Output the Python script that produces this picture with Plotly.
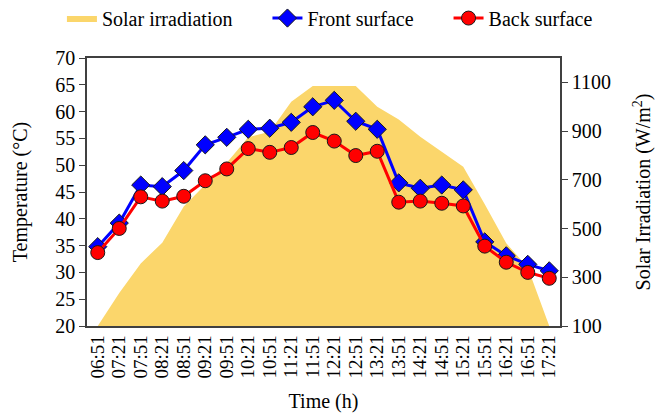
import plotly.graph_objects as go

times = ["06:51", "07:21", "07:51", "08:21", "08:51", "09:21", "09:51", "10:21",
         "10:51", "11:21", "11:51", "12:21", "12:51", "13:21", "13:51", "14:21",
         "14:51", "15:21", "15:51", "16:21", "16:51", "17:21"]
front_surface = [34.8, 39.2, 46.3, 46.0, 49.0, 53.8, 55.2, 56.7, 56.9, 58.0, 60.9, 62.1,
                 58.2, 56.7, 46.7, 45.7, 46.3, 45.4, 35.7, 33.1, 31.5, 30.3]
back_surface = [33.7, 38.2, 44.1, 43.3, 44.2, 47.1, 49.3, 53.1, 52.4, 53.3, 56.1, 54.5,
                51.8, 52.6, 43.1, 43.3, 42.9, 42.4, 34.9, 31.9, 30.0, 28.9]
solar_irradiation = [100, 235, 357, 442, 590, 680, 770, 875, 897, 1020, 1085, 1085,
                     1085, 1000, 948, 877, 815, 754, 600, 440, 340, 100]

temp_ticks = [20, 25, 30, 35, 40, 45, 50, 55, 60, 65, 70]
irr_ticks = [100, 300, 500, 700, 900, 1100]

FONT = "Liberation Serif"
AX = "#404040"
PAD = "\u00a0" * 6

fig = go.Figure()
fig.add_trace(go.Scatter(
    x=times, y=solar_irradiation, name="Solar irradiation" + PAD, yaxis="y",
    mode="lines", fill="tozeroy", fillcolor="#FBD66B",
    line=dict(width=0, color="#FBD66B"),
))
fig.add_trace(go.Scatter(
    x=times, y=front_surface, name="Front surface" + PAD, yaxis="y2",
    mode="lines+markers", line=dict(color="#0000FF", width=3),
    marker=dict(symbol="diamond", size=14, color="#0000FF",
                line=dict(color="#1a1a1a", width=1)),
))
fig.add_trace(go.Scatter(
    x=times, y=back_surface, name="Back surface", yaxis="y2",
    mode="lines+markers", line=dict(color="#FF0000", width=3),
    marker=dict(symbol="circle", size=14, color="#FF0000",
                line=dict(color="#1a1a1a", width=1)),
))

fig.update_layout(
    width=655, height=413,
    margin=dict(l=87, r=95, t=58, b=87, autoexpand=False),
    paper_bgcolor="white", plot_bgcolor="white",
    font=dict(family=FONT, size=20, color="black"),
    showlegend=True,
    legend=dict(orientation="h", x=-0.053, xanchor="left", y=1.149, yanchor="middle",
                font=dict(family=FONT, size=20), bgcolor="rgba(0,0,0,0)",
                traceorder="normal", itemwidth=30),
    xaxis=dict(
        type="category", range=[-0.5, len(times) - 0.5], tickmode="array",
        tickvals=times, ticktext=times, tickangle=-90, showgrid=False,
        showline=True, linecolor=AX, linewidth=1.5, mirror=True, ticks="",
        tickfont=dict(family=FONT, size=19),
        title=dict(text="Time (h)", font=dict(family=FONT, size=20), standoff=18),
    ),
    yaxis=dict(
        side="right", range=[100, 1200], tickvals=irr_ticks, showgrid=False,
        showline=True, linecolor=AX, linewidth=1.5, ticks="outside", ticklen=6,
        tickcolor=AX, zeroline=False, tickfont=dict(family=FONT, size=20),
        title=dict(text="Solar Irradiation (W/m<sup>2</sup>)",
                   font=dict(family=FONT, size=20), standoff=36),
    ),
    yaxis2=dict(
        overlaying="y", side="left", range=[20, 70], tickvals=temp_ticks,
        showgrid=False, showline=True, linecolor=AX, linewidth=1.5,
        ticks="outside", ticklen=6, tickcolor=AX, zeroline=False,
        tickfont=dict(family=FONT, size=20),
        title=dict(text="Temperature (°C)", font=dict(family=FONT, size=20), standoff=22),
    ),
)

fig.write_html("out.html")
